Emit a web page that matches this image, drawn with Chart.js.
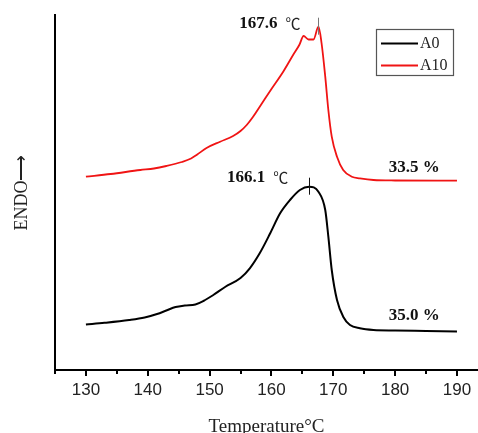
<!DOCTYPE html>
<html>
<head>
<meta charset="utf-8">
<script src="https://cdn.jsdelivr.net/npm/chart.js@4.4.1/dist/chart.umd.min.js"></script>
<style>
  html, body { margin: 0; padding: 0; background: #fff; overflow: hidden; }
  canvas { display: block; }
</style>
</head>
<body>
<canvas id="dsc" width="478" height="433"></canvas>
<script>
// DSC curves (heat flow in arbitrary units)
const a0Temp = [130, 133, 137, 139.5, 141.5, 143, 144.5, 146, 147.7, 149, 150.6, 152.5, 155, 156.5, 158.1, 159.8, 161.4, 163, 164.6, 166.1, 167.6, 168.7, 169.2, 169.75, 170.6, 171.6, 172.7, 174.3, 176.5, 180, 185, 190];
const a0Flow = [4.55, 4.72, 5.0, 5.25, 5.6, 5.95, 6.3, 6.45, 6.55, 6.9, 7.5, 8.3, 9.2, 10.17, 11.67, 13.67, 15.67, 17.0, 18.0, 18.33, 17.83, 16.0, 13.33, 10.0, 7.0, 5.33, 4.5, 4.17, 4.0, 3.95, 3.9, 3.85];

const a10Temp = [130, 134, 138.8, 141, 143, 145.5, 147, 148, 149.5, 151.7, 153.8, 155, 156, 157, 158.5, 160, 161.9, 163.5, 164.5, 165.2, 166, 166.8, 167.6, 168.1, 168.7, 169.2, 169.75, 170.6, 171.6, 173, 174.3, 176.5, 180, 190];
const a10Flow = [19.33, 19.6, 20.0, 20.15, 20.4, 20.8, 21.15, 21.55, 22.2, 22.83, 23.4, 23.9, 24.5, 25.3, 26.7, 28.1, 29.83, 31.5, 32.5, 33.4, 33.05, 33.05, 34.33, 32.7, 29.33, 26.0, 23.33, 21.33, 20.0, 19.33, 19.17, 19.0, 18.95, 18.93];

const seriesNames = ['A0', 'A10'];
const seriesColors = ['#000000', '#f01414'];
const peakTemps = [166.1, 167.6];
const crystallinity = ['35.0 %', '33.5 %'];
const xTickLabels = [130, 140, 150, 160, 170, 180, 190];

const toPoints = (xs, ys) => xs.map((x, i) => ({ x: x, y: ys[i] }));

// value of a series at a given temperature (linear between read points)
function valueAt(ds, t) {
    const d = ds.data;
    for (let i = 1; i < d.length; i++) {
        if (t <= d[i].x) {
            const f = (t - d[i - 1].x) / (d[i].x - d[i - 1].x);
            return d[i - 1].y + f * (d[i].y - d[i - 1].y);
        }
    }
    return d[d.length - 1].y;
}

// tick marks: long at every 10, short at every 5
const tickMarks = {
    id: 'tickMarks',
    afterDraw(chart) {
        const ctx = chart.ctx;
        const xs = chart.scales.x;
        const bottom = chart.chartArea.bottom;
        ctx.save();
        ctx.strokeStyle = '#000';
        ctx.lineWidth = 2;
        xs.ticks.forEach(t => {
            const px = Math.round(xs.getPixelForValue(t.value));
            const len = t.value % 10 === 0 ? 6 : 4;
            ctx.beginPath();
            ctx.moveTo(px, bottom);
            ctx.lineTo(px, bottom + len);
            ctx.stroke();
        });
        ctx.restore();
    }
};

// peak markers, peak temperatures and crystallinity labels
const annotations = {
    id: 'annotations',
    afterDatasetsDraw(chart) {
        const ctx = chart.ctx;
        const xs = chart.scales.x;
        const ys = chart.scales.y;
        const labelDx = [-21, -18];
        const labelDy = [-9, -3];
        const pctDy = [-16, -13];
        ctx.save();
        chart.data.datasets.forEach((ds, i) => {
            const px = xs.getPixelForValue(peakTemps[i]);
            const py = ys.getPixelForValue(valueAt(ds, peakTemps[i]));

            // small vertical marker through the peak
            ctx.strokeStyle = i === 0 ? '#111' : '#777';
            ctx.lineWidth = 1;
            ctx.beginPath();
            ctx.moveTo(Math.round(px) + 0.5, py - 9);
            ctx.lineTo(Math.round(px) + 0.5, py + 8);
            ctx.stroke();

            // "166.1 ℃"
            const ty = py + labelDy[i];
            let right = px + labelDx[i];
            ctx.textBaseline = 'middle';
            ctx.textAlign = 'right';
            ctx.fillStyle = '#222';
            ctx.font = '15px "Noto Sans CJK SC", "DejaVu Sans", sans-serif';
            ctx.fillText('℃', right, ty);
            right -= ctx.measureText('℃').width + 8;
            ctx.fillStyle = '#111';
            ctx.font = 'bold 17px "Liberation Serif", "Times New Roman", serif';
            ctx.fillText(peakTemps[i].toFixed(1), right, ty);

            // crystallinity above the flat tail
            const last = ds.data[ds.data.length - 1];
            ctx.textAlign = 'center';
            ctx.fillText(crystallinity[i], xs.getPixelForValue(183.1), ys.getPixelForValue(last.y) + pctDy[i]);
        });
        ctx.restore();
    }
};

// framed legend in the top right corner
const boxLegend = {
    id: 'boxLegend',
    afterDraw(chart) {
        const ctx = chart.ctx;
        const box = { x: 376, y: 29, w: 77, h: 46 };
        ctx.save();
        ctx.fillStyle = '#fff';
        ctx.fillRect(box.x, box.y, box.w, box.h);
        ctx.strokeStyle = '#555';
        ctx.lineWidth = 1.2;
        ctx.strokeRect(box.x + 0.5, box.y + 0.5, box.w, box.h);
        ctx.font = '16px "Liberation Serif", "Times New Roman", serif';
        ctx.textBaseline = 'middle';
        ctx.textAlign = 'left';
        chart.data.datasets.forEach((ds, i) => {
            const y = box.y + 14.5 + i * 22;
            ctx.strokeStyle = ds.borderColor;
            ctx.lineWidth = 2;
            ctx.beginPath();
            ctx.moveTo(box.x + 5, y);
            ctx.lineTo(box.x + 42, y);
            ctx.stroke();
            ctx.fillStyle = '#222';
            ctx.fillText(ds.label, box.x + 44, y + 0.5);
        });
        ctx.restore();
    }
};

new Chart(document.getElementById('dsc'), {
    type: 'line',
    data: {
        datasets: [
            { label: seriesNames[0], data: toPoints(a0Temp, a0Flow), borderColor: seriesColors[0], borderWidth: 2 },
            { label: seriesNames[1], data: toPoints(a10Temp, a10Flow), borderColor: seriesColors[1], borderWidth: 1.8 }
        ]
    },
    options: {
        responsive: false,
        animation: false,
        parsing: false,
        elements: {
            point: { radius: 0 },
            line: { cubicInterpolationMode: 'monotone', fill: false }
        },
        layout: { padding: { top: 15, right: 0, bottom: 0, left: 0 } },
        plugins: {
            legend: { display: false },
            tooltip: { enabled: false }
        },
        scales: {
            x: {
                type: 'linear',
                min: 125,
                max: 193.4,
                afterFit: s => { s.height = 63; },
                border: { display: true, color: '#000', width: 2 },
                grid: { display: false, drawTicks: true, tickLength: 6 },
                ticks: {
                    stepSize: 5,
                    includeBounds: false,
                    autoSkip: false,
                    maxRotation: 0,
                    padding: 4,
                    color: '#222',
                    font: { family: '"Liberation Sans", Arial, sans-serif', size: 17 },
                    callback: v => xTickLabels.includes(v) ? String(v) : ''
                },
                title: {
                    display: true,
                    text: 'Temperature°C',
                    color: '#222',
                    font: { family: '"Liberation Serif", "Times New Roman", serif', size: 19 },
                    padding: { top: 0, bottom: -5 }
                }
            },
            y: {
                min: 0,
                max: 35.5,
                afterFit: s => { s.width = 55; },
                border: { display: true, color: '#000', width: 2 },
                grid: { display: false },
                ticks: { display: false },
                title: {
                    display: true,
                    text: 'ENDO⟶',
                    color: '#222',
                    font: { family: '"Liberation Serif", "Times New Roman", serif', size: 18 },
                    padding: { top: 11, bottom: 0 }
                }
            }
        }
    },
    plugins: [tickMarks, annotations, boxLegend]
});
</script>
</body>
</html>
